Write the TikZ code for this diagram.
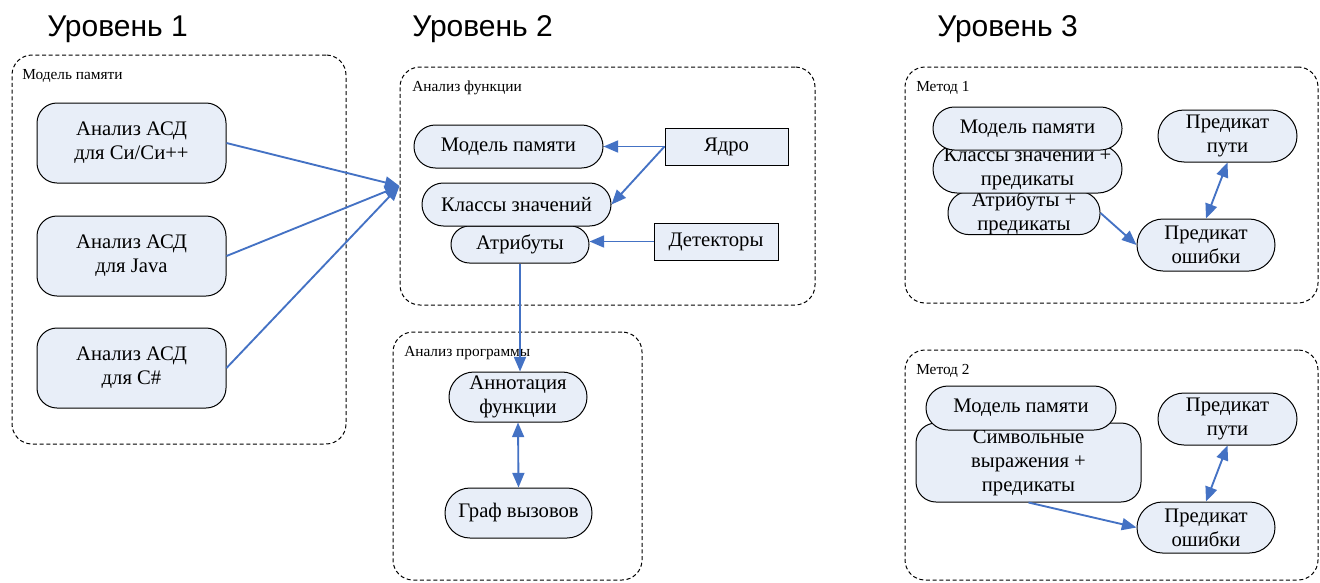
\documentclass[tikz,border=0pt]{standalone}
\usepackage{fontspec}
\setmainfont{Liberation Serif}
\newfontfamily\headfont{Liberation Sans}
\usetikzlibrary{arrows.meta,positioning}
\definecolor{boxfill}{RGB}{232,238,248}
\definecolor{linkblue}{RGB}{68,114,196}

\begin{document}
\begin{tikzpicture}[x=0.75pt,y=-0.75pt,>={Triangle[length=11pt,width=9pt]},
  level/.style={anchor=base west,inner sep=0,font=\headfont\fontsize{22.5}{26}\selectfont},
  group/.style={draw=black,dash pattern=on 3pt off 2pt,line width=0.75pt,rounded corners=15pt},
  grouplabel/.style={anchor=base west,inner sep=0,font=\fontsize{11.5}{13}\selectfont},
  pill/.style={draw=black,fill=boxfill,line width=0.75pt,align=center,inner sep=0,
    rounded corners=16pt,font=\fontsize{15.5}{18}\selectfont},
  block/.style={pill,rounded corners=0pt},
  link/.style={->,draw=linkblue,line width=1.4pt},
  both/.style={<->,draw=linkblue,line width=1.4pt}]
  \useasboundingbox (0,0) rectangle (1320,582);

  % Levels
  \node[level] (lvl1) at (47,36) {Уровень 1};
  \node[level] (lvl2) at (412,36) {Уровень 2};
  \node[level] (lvl3) at (937,36) {Уровень 3};

  % Groups
  \node[group,minimum width=250.5pt,minimum height=291.75pt] (memgrp) at (179,249.5) {};
  \node[group,minimum width=311.25pt,minimum height=178.5pt] (funcgrp) at (607.5,186) {};
  \node[group,minimum width=186.75pt,minimum height=186pt] (proggrp) at (517.5,456) {};
  \node[group,minimum width=309.75pt,minimum height=177pt] (m1grp) at (1111.5,185) {};
  \node[group,minimum width=309.75pt,minimum height=172.5pt] (m2grp) at (1111.5,465) {};

  \node[grouplabel] (memlbl) at (22,79) {Модель памяти};
  \node[grouplabel] (funclbl) at (412,91) {Анализ функции};
  \node[grouplabel] (proglbl) at (404,356) {Анализ программы};
  \node[grouplabel] (m1lbl) at (916,91) {Метод 1};
  \node[grouplabel] (m2lbl) at (916,374) {Метод 2};

  % Level 1: front ends
  \node[pill,rounded corners=15pt,minimum width=141.75pt,minimum height=60pt] (cpp) at (131.5,143)
    {Анализ АСД\\для Си/Си++};
  \node[pill,rounded corners=15pt,minimum width=141.75pt,minimum height=60pt] (java) at (131.5,256)
    {Анализ АСД\\для Java};
  \node[pill,rounded corners=15pt,minimum width=141.75pt,minimum height=60pt] (csharp) at (131.5,368)
    {Анализ АСД\\для C\#};

  % Level 2: function analysis
  \node[pill,rounded corners=13.8pt,minimum width=103.5pt,minimum height=27.75pt] (attr) at (520,244.5) {Атрибуты};
  \node[pill,minimum width=141.75pt,minimum height=32.25pt] (vcls) at (516.5,204.5) {Классы значений};
  \node[pill,minimum width=141.75pt,minimum height=32.25pt] (mem) at (508.5,146.5) {Модель памяти};
  \node[block,minimum width=92.25pt,minimum height=27.75pt] (core) at (726.5,146.5) {Ядро};
  \node[block,minimum width=93pt,minimum height=27.75pt] (det) at (716,241.5) {Детекторы};

  % Level 2: program analysis
  \node[pill,rounded corners=18.7pt,minimum width=103.5pt,minimum height=37.5pt] (annot) at (518,397)
    {Аннотация\\функции};
  \node[pill,rounded corners=18.7pt,minimum width=110.25pt,minimum height=37.5pt] (callg) at (518.5,513)
    {Граф вызовов};

  % Level 3: method 1
  \node[pill,rounded corners=15.7pt,minimum width=114pt,minimum height=31.5pt] (attr1) at (1024,213)
    {Атрибуты +\\предикаты};
  \node[pill,rounded corners=18pt,minimum width=141.75pt,minimum height=36pt] (vcls1) at (1027.5,169)
    {Классы значений +\\предикаты};
  \node[pill,minimum width=141.75pt,minimum height=32.25pt] (mem1) at (1027.5,128.5) {Модель памяти};
  \node[pill,rounded corners=19.5pt,minimum width=104.25pt,minimum height=39pt] (path1) at (1227.5,136)
    {Предикат\\пути};
  \node[pill,rounded corners=19.5pt,minimum width=103.5pt,minimum height=39pt] (err1) at (1206,245)
    {Предикат\\ошибки};

  % Level 3: method 2
  \node[pill,rounded corners=15pt,minimum width=168.75pt,minimum height=59.25pt] (sym2) at (1028.5,462.5)
    {Символьные\\выражения +\\предикаты};
  \node[pill,rounded corners=16.5pt,minimum width=142.5pt,minimum height=33pt] (mem2) at (1021,408) {Модель памяти};
  \node[pill,rounded corners=19.5pt,minimum width=104.25pt,minimum height=39pt] (path2) at (1227.5,419)
    {Предикат\\пути};
  \node[pill,rounded corners=19.1pt,minimum width=103.5pt,minimum height=38.25pt] (err2) at (1206,527.5)
    {Предикат\\ошибки};

  % Connectors
  \draw[link] (cpp.east) -- (funcgrp.west);
  \draw[link] (java.east) -- (funcgrp.west);
  \draw[link] (csharp.east) -- (funcgrp.west);
  \draw[link] (core.west) -- (mem.east);
  \draw[link] (core.west) -- (vcls.east);
  \draw[link] (det.west) -- (det.west -| attr.east);
  \draw[link] (attr.south) -- (attr.south |- annot.north);
  \draw[both] (annot.south) -- (callg.north);
  \draw[link] (attr1.east) -- (err1.west);
  \draw[both] (path1.south) -- (err1.north);
  \draw[link] (sym2.south) -- (err2.west);
  \draw[both] (path2.south) -- (err2.north);
\end{tikzpicture}
\end{document}
